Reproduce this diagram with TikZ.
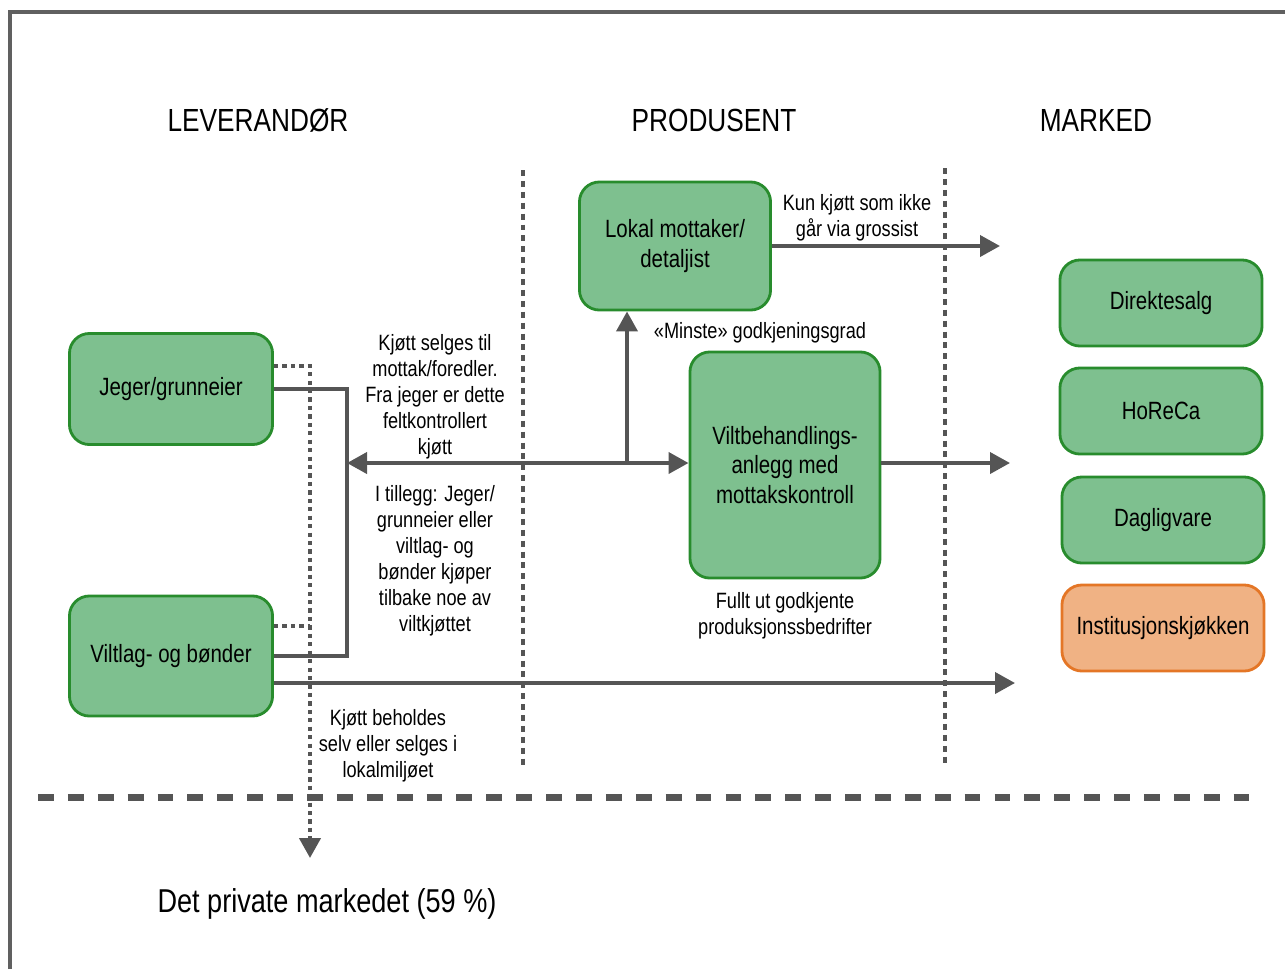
\documentclass[tikz,border=0pt]{standalone}
\usepackage{fontspec}
\setmainfont{Liberation Sans}[FakeStretch=0.82]
\usetikzlibrary{arrows.meta,positioning}

\definecolor{boxgreen}{RGB}{126,192,143}
\definecolor{edgegreen}{RGB}{40,140,45}
\definecolor{boxorange}{RGB}{240,178,132}
\definecolor{edgeorange}{RGB}{228,118,38}
\definecolor{flowgray}{RGB}{85,85,85}
\definecolor{framegray}{RGB}{96,96,96}

\tikzset{
  actor/.style={draw=edgegreen, fill=boxgreen, line width=0.8pt, rounded corners=0.2cm,
    minimum width=2.03cm, minimum height=1.11cm, align=center,
    font=\fontsize{7.1}{8.3}\selectfont},
  market/.style={actor, minimum width=2.02cm, minimum height=0.86cm},
  head/.style={font=\fontsize{9.1}{11}\selectfont},
  note/.style={align=center, font=\fontsize{6.3}{7.4}\selectfont, inner sep=0pt},
  tip/.style={-{Triangle[length=0.2cm,width=0.21cm]}},
  flow/.style={draw=flowgray, line width=1.1pt},
  dotline/.style={draw=flowgray, line width=1.2pt, dash pattern=on 1.2pt off 1.2pt},
  sepline/.style={draw=flowgray, line width=0.9pt, dash pattern=on 1.7pt off 1.4pt},
  cutline/.style={draw=flowgray, line width=2pt, dash pattern=on 4.5pt off 4pt},
}

\begin{document}
\begin{tikzpicture}[x=0.01cm, y=-0.01cm]
  \useasboundingbox (0,0) rectangle (1285,969);
  \draw[framegray, line width=1.4pt] (10,969) -- (10,12) -- (1285,12);

  \node[head] (lev) at (258,120) {LEVERANDØR};
  \node[head] (prod) at (714,120) {PRODUSENT};
  \node[head] (marked) at (1096,120) {MARKED};

  \draw[sepline] (523,170) -- (523,765);
  \draw[sepline] (945,168) -- (945,765);
  \draw[cutline] (38,797) -- (1252,797);

  \node[actor] (jeger) at (171,389) {Jeger/grunneier};
  \node[actor, minimum height=1.2cm] (viltlag) at (171,656) {Viltlag- og bønder};
  \node[actor, minimum width=1.91cm, minimum height=1.28cm] (lokal) at (675,246) {Lokal mottaker/\\detaljist};
  \node[actor, minimum width=1.9cm, minimum height=2.26cm] (anlegg) at (785,465) {Viltbehandlings-\\anlegg med\\mottakskontroll};

  \node[market] (direkte) at (1161,303) {Direktesalg};
  \node[market] (horeca) at (1161,411) {HoReCa};
  \node[market] (daglig) at (1163,520) {Dagligvare};
  \node[market, draw=edgeorange, fill=boxorange] (inst) at (1163,628) {Institusjonskjøkken};

  \coordinate (brk) at (347,463);
  \coordinate (split) at (627,463);
  \coordinate (mk1) at (1000,247);
  \coordinate (mk2) at (1010,463);
  \coordinate (mk3) at (1015,683);
  \coordinate (priv) at (310,858);

  \draw[flow] (jeger.east) -- (jeger.east -| brk) -- (viltlag.east -| brk) -- (viltlag.east);
  \draw[flow, {Triangle[length=0.2cm,width=0.21cm]}-{Triangle[length=0.2cm,width=0.21cm]}] (brk) -- (anlegg.west |- brk);
  \draw[flow, tip] (split) -- (lokal.south -| split);
  \draw[flow, tip] (lokal.east) -- (lokal.east -| mk1);
  \draw[flow, tip] (anlegg.east |- mk2) -- (mk2);
  \draw[flow, tip] (viltlag.east |- mk3) -- (mk3);

  \draw[dotline, tip] ([yshift=0.23cm]jeger.east) -| (priv);
  \draw[dotline] ([yshift=0.3cm]viltlag.east) -- ([yshift=0.3cm]viltlag.east -| priv);

  \node[note] (salg) at (435,397) {Kjøtt selges til\\mottak/foredler.\\Fra jeger er dette\\feltkontrollert\\kjøtt};
  \node[note] (tillegg) at (435,561) {I tillegg: Jeger/\\grunneier eller\\viltlag- og\\bønder kjøper\\tilbake noe av\\viltkjøttet};
  \node[note] (grossist) at (857,218) {Kun kjøtt som ikke\\går via grossist};
  \node[note] (minste) at (760,333) {«Minste» godkjeningsgrad};
  \node[note] (fullt) at (785,616) {Fullt ut godkjente\\produksjonssbedrifter};
  \node[note] (beholdes) at (388,746) {Kjøtt beholdes\\selv eller selges i\\lokalmiljøet};

  \node[font=\fontsize{9.4}{11}\selectfont] (privat) at (327,904) {Det private markedet (59 \%)};
\end{tikzpicture}
\end{document}
